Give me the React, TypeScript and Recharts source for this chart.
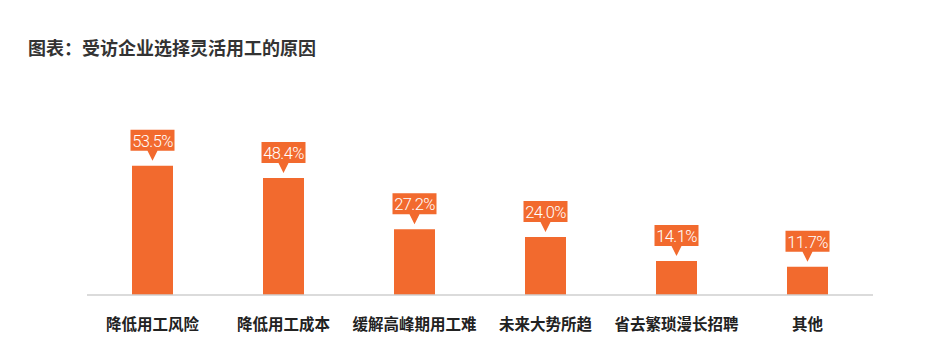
import { BarChart, Bar, XAxis, YAxis, LabelList } from "recharts";

const categories = [
  "降低用工风险",
  "降低用工成本",
  "缓解高峰期用工难",
  "未来大势所趋",
  "省去繁琐漫长招聘",
  "其他",
];
const shares = [53.5, 48.4, 27.2, 24.0, 14.1, 11.7];

const data = categories.map((name, i) => ({ name, value: shares[i] }));

const ORANGE = "#F26A2E";
const CJK = '"Noto Sans CJK SC", "Noto Sans", sans-serif';

// callout box with a small pointer, sitting above the bar
const Callout = (props: any) => {
  const { x, y, width, value } = props;
  const cx = x + width / 2;
  const tip = y - 5;
  const boxBottom = tip - 10;
  const boxTop = boxBottom - 21;
  const w = 44;
  return (
    <g>
      <path
        d={`M${cx - w / 2},${boxTop} H${cx + w / 2} V${boxBottom} H${cx + 5} L${cx},${tip} L${cx - 5},${boxBottom} H${cx - w / 2} Z`}
        fill={ORANGE}
      />
      <text
        x={cx}
        y={boxBottom - 4}
        textAnchor="middle"
        fill="#fff"
        fontSize={16.5}
        fontFamily="Roboto, sans-serif"
        fontWeight={300}
        letterSpacing={-0.6}
      >
        {Number(value).toFixed(1)}%
      </text>
    </g>
  );
};

export default function App() {
  return (
    <div
      style={{
        position: "absolute",
        left: 0,
        top: 0,
        width: 927,
        height: 359,
        background: "#fff",
      }}
    >
      <div
        style={{
          position: "absolute",
          left: 28,
          top: 35,
          fontFamily: CJK,
          fontSize: 18,
          fontWeight: 600,
          color: "#333",
          lineHeight: "24px",
          whiteSpace: "nowrap",
        }}
      >
        图表：受访企业选择灵活用工的原因
      </div>
      <BarChart
        width={927}
        height={359}
        data={data}
        margin={{ top: 150, right: 54, bottom: 34, left: 87 }}
      >
        <XAxis
          dataKey="name"
          height={30}
          axisLine={{ stroke: "#cfcfcf", strokeWidth: 1.5 }}
          tickLine={false}
          interval={0}
          tick={(props: any) => {
            const { x, y, payload } = props;
            return (
              <text
                x={x}
                y={y + 27}
                textAnchor="middle"
                fontFamily={CJK}
                fontSize={15.5}
                fontWeight={700}
                fill="#222"
              >
                {payload.value}
              </text>
            );
          }}
        />
        <YAxis hide domain={[0, 60]} />
        <Bar dataKey="value" fill={ORANGE} barSize={41} isAnimationActive={false}>
          <LabelList dataKey="value" content={Callout} />
        </Bar>
      </BarChart>
    </div>
  );
}
